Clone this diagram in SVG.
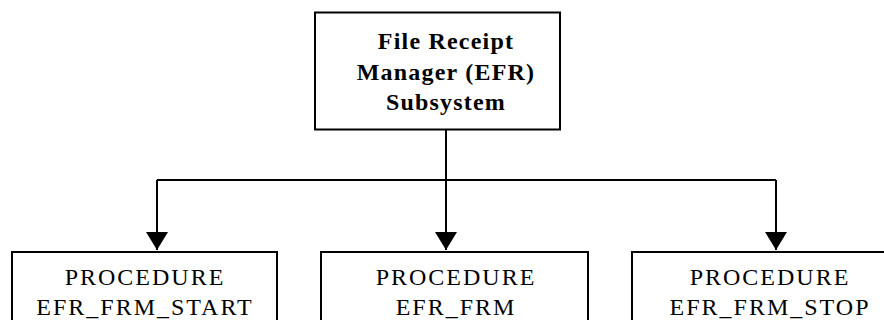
<svg xmlns="http://www.w3.org/2000/svg" width="884" height="320" viewBox="0 0 884 320">
  <style>
    .box { fill: #ffffff; stroke: #000000; stroke-width: 2; }
    .wire { fill: none; stroke: #000000; stroke-width: 2; }
    .title { font-family: "Liberation Serif", "Times New Roman", serif; font-size: 24px; font-weight: bold; letter-spacing: 1.2px; text-anchor: middle; fill: #000000; }
    .label { font-family: "Liberation Serif", "Times New Roman", serif; font-size: 24px; letter-spacing: 2px; text-anchor: middle; fill: #000000; }
  </style>
  <defs>
    <!-- solid triangular head, tip at the end of the line -->
    <marker id="arrow" viewBox="0 0 18 22" refX="18" refY="11" markerWidth="18" markerHeight="22" markerUnits="userSpaceOnUse" orient="auto">
      <path d="M0,0 L18,11 L0,22 Z" fill="#000000"/>
    </marker>
  </defs>

  <rect width="884" height="320" fill="#ffffff"/>

  <g id="connectors">
    <path class="wire" d="M446,129.5 V180"/>
    <path class="wire" d="M157,180 H776"/>
    <path class="wire" d="M157,180 V250" marker-end="url(#arrow)"/>
    <path class="wire" d="M446,180 V250" marker-end="url(#arrow)"/>
    <path class="wire" d="M776,180 V250" marker-end="url(#arrow)"/>
  </g>

  <g id="efr-subsystem">
    <rect class="box" x="315" y="12.5" width="245" height="117"/>
    <text class="title" x="446" y="49">File Receipt</text>
    <text class="title" x="446" y="80">Manager (EFR)</text>
    <text class="title" x="446" y="110">Subsystem</text>
  </g>

  <g id="efr-frm-start">
    <rect class="box" x="12" y="252" width="265" height="90"/>
    <text class="label" x="145" y="285">PROCEDURE</text>
    <text class="label" x="145" y="315">EFR_FRM_START</text>
  </g>

  <g id="efr-frm">
    <rect class="box" x="321" y="252" width="267" height="90"/>
    <text class="label" x="456" y="285">PROCEDURE</text>
    <text class="label" x="456" y="315">EFR_FRM</text>
  </g>

  <g id="efr-frm-stop">
    <rect class="box" x="632" y="252" width="280" height="90"/>
    <text class="label" x="770" y="285">PROCEDURE</text>
    <text class="label" x="770" y="315">EFR_FRM_STOP</text>
  </g>
</svg>
